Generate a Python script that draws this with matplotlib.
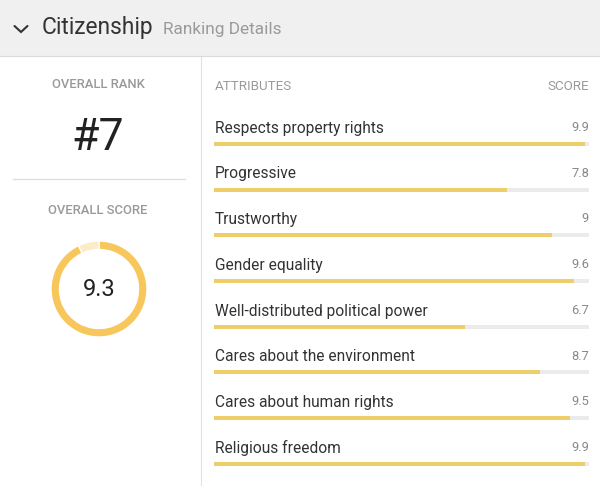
import numpy as np
import matplotlib
matplotlib.use("Agg")
import matplotlib.pyplot as plt
from matplotlib.patches import Rectangle

plt.rcParams['font.family'] = ['Roboto', 'DejaVu Sans']

# data
attributes = ['Respects property rights', 'Progressive', 'Trustworthy', 'Gender equality',
              'Well-distributed political power', 'Cares about the environment',
              'Cares about human rights', 'Religious freedom']
scores = [9.9, 7.8, 9, 9.6, 6.7, 8.7, 9.5, 9.9]
score_labels = ['9.9', '7.8', '9', '9.6', '6.7', '8.7', '9.5', '9.9']
overall_rank = 7
overall_score = 9.3
max_score = 10

W, H = 600, 486
fig = plt.figure(figsize=(W / 100, H / 100), dpi=100)
fig.patch.set_facecolor('white')

# background / pixel layout axes
ax = fig.add_axes([0, 0, 1, 1])
ax.set_xlim(0, W)
ax.set_ylim(H, 0)
ax.axis('off')

ax.add_patch(Rectangle((0, 0), W, 56, facecolor='#f0f0f0', edgecolor='none'))
ax.plot([0, W], [56.5, 56.5], color='#dadada', lw=0.8)
ax.plot([200.5, 200.5], [57, H], color='#e2e2e2', lw=0.8)
ax.plot([13, 185], [179, 179], color='#dddddd', lw=0.9)

# header
ax.plot([14.5, 21, 27.5], [26, 32, 26], color='#333333', lw=1.5,
        solid_capstyle='round', solid_joinstyle='miter')
ax.text(41.5, 34.3, 'Citizenship', fontsize=16.4, color='#333333', va='baseline')
ax.text(163, 34.3, 'Ranking Details', fontsize=12.4, color='#9a9a9a', va='baseline')

# left panel
ax.text(98, 87.7, 'OVERALL RANK', fontsize=9.4, color='#999999', ha='center',
        va='baseline', fontweight='medium')
ax.text(98, 150, '#%d' % overall_rank, fontsize=32, color='#222222', ha='center',
        va='baseline')
ax.text(98, 214, 'OVERALL SCORE', fontsize=9.4, color='#999999', ha='center',
        va='baseline', fontweight='medium')

# right panel headers
ax.text(215, 90, 'ATTRIBUTES', fontsize=9.6, color='#9a9a9a', va='baseline')
ax.text(589, 90, 'SCORE', fontsize=9.6, color='#9a9a9a', ha='right', va='baseline')

# bars
row0, step = 144, 45.7
top_px, bot_px = 98, H
bx = fig.add_axes([214 / W, (H - bot_px) / H, 375 / W, (bot_px - top_px) / H])
bx.set_xlim(0, max_score)
bx.set_ylim((bot_px - row0) / step, (top_px - row0) / step)
bx.axis('off')
rows = np.arange(len(attributes))
bh = 4 / step
bx.barh(rows, [max_score] * len(rows), height=bh, color='#ebebeb')
bx.barh(rows, scores, height=bh, color='#eecd6b')
for i, (name, lab) in enumerate(zip(attributes, score_labels)):
    bx.text(0.02, i - 0.247, name, fontsize=11.2, color='#333333', va='baseline')
    bx.text(max_score, i - 0.284, lab, fontsize=9.3, color='#888888', ha='right',
            va='baseline')

# donut
cx, cy, r = 99, 289, 48
dx = fig.add_axes([(cx - 50) / W, (H - cy - 50) / H, 100 / W, 100 / H])
dx.pie([overall_score, max_score - overall_score], radius=r, startangle=90,
       counterclock=False, colors=['#f7c75c', '#fcebc7'],
       wedgeprops=dict(width=8.5, edgecolor='white', linewidth=1))
dx.set_xlim(-50, 50)
dx.set_ylim(-50, 50)
dx.axis('off')
dx.text(0, 0, '%.1f' % overall_score, fontsize=17, color='#222222', ha='center',
        va='center')

fig.savefig('out.png', dpi=100, facecolor='white')
